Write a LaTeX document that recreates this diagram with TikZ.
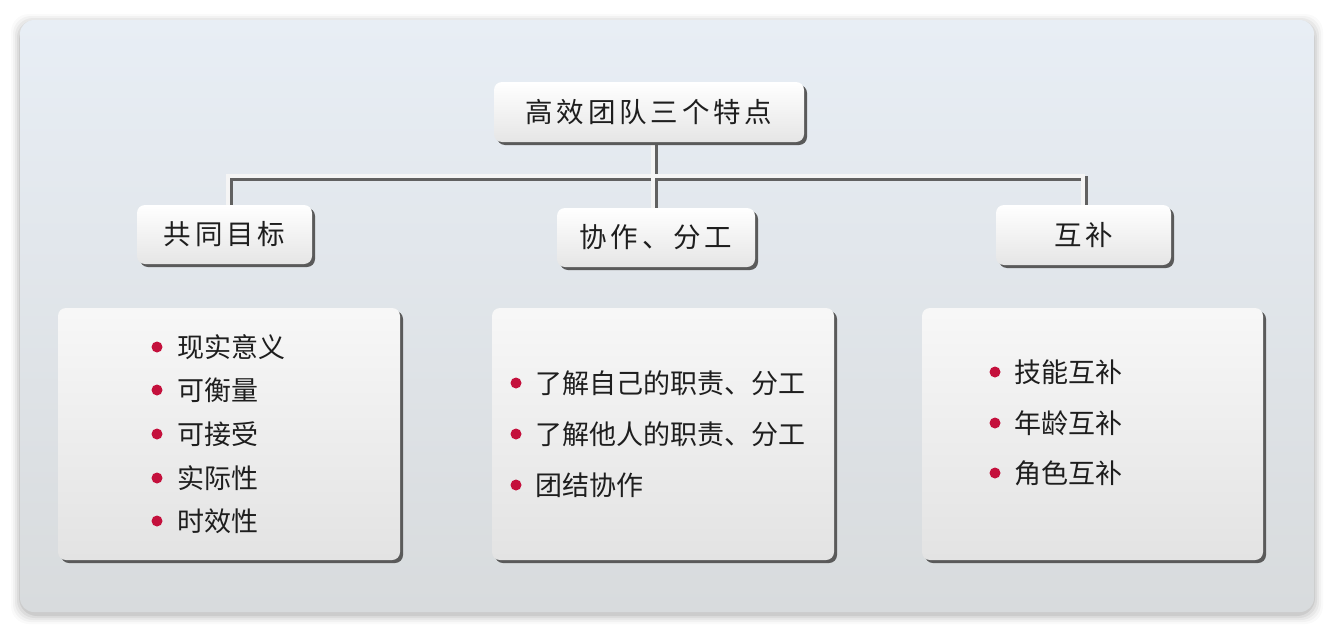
\documentclass[tikz,border=0pt]{standalone}
\usepackage{fontspec}
\setmainfont{Noto Sans CJK SC}
\newfontfamily\cjkwide{Noto Sans CJK SC}[LetterSpace=14]
\usetikzlibrary{shadows}
\definecolor{bul}{HTML}{C4103C}
\definecolor{txt}{HTML}{1E1E1E}
\definecolor{bgtop}{HTML}{E8EEF5}
\definecolor{bgbot}{HTML}{D8DBDD}
\definecolor{shd}{HTML}{5A5A5A}
\tikzset{
  box/.style={rounded corners=8pt, top color=white, bottom color=black!10, inner sep=0pt,
    drop shadow={shadow xshift=3pt, shadow yshift=-3pt, fill=shd, opacity=1, shadow scale=1}},
  hdr/.style={box, minimum height=59pt, text=txt, font=\fontsize{27.5}{30}\cjkwide},
  panel/.style={box, minimum width=341pt, minimum height=252pt, top color=black!3, bottom color=black!11},
  dotb/.style={circle, fill=bul, inner sep=0pt, minimum size=11pt},
  item/.style={anchor=west, inner sep=0pt, text=txt, font=\fontsize{27}{30}\selectfont},
  connd/.style={line width=5pt, draw=black!62, line cap=rect},
  connl/.style={line width=3.5pt, draw=white!96!black, line cap=rect}
}
\begin{document}
\begin{tikzpicture}[x=1pt,y=-1pt]
\useasboundingbox (0,0) rectangle (1334,632);
\fill[white] (0,0) rectangle (1334,632);
\foreach \i/\o in {9/0.02,7/0.03,5/0.04,3/0.05,1/0.07}
  \fill[black, opacity=\o, rounded corners=18pt] (20-\i,20-\i+3) rectangle (1314+\i,612+\i+3);
\shade[top color=bgtop, bottom color=bgbot, rounded corners=14pt] (20,20) rectangle (1314,612);

% connector coordinates
\coordinate (jl) at (228,176);
\coordinate (jm) at (653,176);
\coordinate (jr) at (1083,176);
\coordinate (tb) at (653,140);
\coordinate (lt) at (228,206);
\coordinate (mt) at (653,209);
\coordinate (rt) at (1083,206);
\begin{scope}[transform canvas={xshift=2pt,yshift=-2pt}]
\draw[connd] (lt) -- (jl) -- (jr) -- (rt);
\draw[connd] (tb) -- (mt);
\end{scope}
\draw[connl] (lt) -- (jl) -- (jr) -- (rt);
\draw[connl] (tb) -- (mt);

% header boxes
\node[hdr, minimum width=310pt, minimum height=60pt] (top) at (649,112) {高效团队三个特点};
\node[hdr, minimum width=175pt] (h1) at (224.5,234.5) {共同目标};
\node[hdr, minimum width=198pt] (h2) at (656,237.5) {协作、分工};
\node[hdr, minimum width=175pt, minimum height=60pt] (h3) at (1083.5,235) {互补};

% lower panels
\node[panel, minimum width=342pt] (p1) at (229,434) {};
\node[panel, minimum width=342pt] (p2) at (663,434) {};
\node[panel] (p3) at (1092.5,434) {};

% panel 1 items
\foreach \n/\y/\t in {1/347/现实意义, 2/390/可衡量, 3/434/可接受, 4/478/实际性, 5/521/时效性}{
  \node[dotb] (a\n d) at (157,\y) {};
  \node[item] (a\n) at (177,\y) {\t};
}
% panel 2 items
\foreach \n/\y/\t in {1/383/了解自己的职责、分工, 2/434/了解他人的职责、分工, 3/485/团结协作}{
  \node[dotb] (b\n d) at (516,\y) {};
  \node[item] (b\n) at (535,\y) {\t};
}
% panel 3 items
\foreach \n/\y/\t in {1/372/技能互补, 2/423/年龄互补, 3/473/角色互补}{
  \node[dotb] (c\n d) at (995,\y) {};
  \node[item] (c\n) at (1014,\y) {\t};
}
\end{tikzpicture}
\end{document}
